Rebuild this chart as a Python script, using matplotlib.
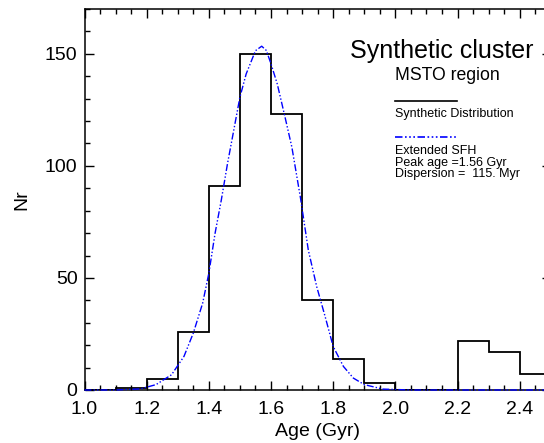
import matplotlib
matplotlib.use("Agg")
import matplotlib.pyplot as plt
from matplotlib.lines import Line2D
from matplotlib.ticker import MultipleLocator

plt.rcParams['font.family'] = ['Liberation Sans', 'DejaVu Sans']

# Histogram (synthetic distribution), bins of 0.1 Gyr
bin_edges = [1.0, 1.1, 1.2, 1.3, 1.4, 1.5, 1.6, 1.7, 1.8, 1.9, 2.0, 2.1, 2.2, 2.3, 2.4, 2.5]
counts = [0, 1, 5, 26, 91, 150, 123, 40, 14, 3, 0, 0, 22, 17, 7]

# Extended SFH curve
sfh_age = [1.00, 1.10, 1.18, 1.23, 1.28, 1.32, 1.35, 1.38, 1.40, 1.42, 1.44, 1.46,
           1.48, 1.50, 1.52, 1.55, 1.57, 1.585, 1.60, 1.62, 1.645, 1.667, 1.695,
           1.72, 1.747, 1.774, 1.80, 1.833, 1.865, 1.90, 1.96, 2.05, 2.50]
sfh_nr = [0, 0, 0.5, 2.4, 6.8, 15.0, 25.4, 38.7, 52.1, 69.9, 84.7, 101,
          115.8, 130.7, 141, 151.4, 153.4, 151.5, 145.5, 136.6, 121.8, 108.4, 85.5,
          62.4, 46.1, 32.8, 19.4, 10.5, 5.3, 2.4, 0.4, 0, 0]

xticks = [1.0, 1.2, 1.4, 1.6, 1.8, 2.0, 2.2, 2.4]
xtick_labels = ['1.0', '1.2', '1.4', '1.6', '1.8', '2.0', '2.2', '2.4']
yticks = [0, 50, 100, 150]

W, H = 544, 443
fig = plt.figure(figsize=(W / 100, H / 100), dpi=100)
L, R, T, B = 84.5, 550.8, 9, 390
ax = fig.add_axes([L / W, 1 - B / H, (R - L) / W, (B - T) / H])

ax.stairs(counts, bin_edges, color='black', linewidth=1.3, baseline=0, zorder=2)
dash = (0, (5, 1.5, 1, 1.5, 1, 1.5))
ax.plot(sfh_age, sfh_nr, color='#0000ff', linewidth=1.0, linestyle=dash,
        zorder=3, clip_on=False)

ax.set_xlim(1.0, 2.5)
ax.set_ylim(0, 170)
ax.set_xticks(xticks)
ax.set_xticklabels(xtick_labels)
ax.set_yticks(yticks)
ax.xaxis.set_minor_locator(MultipleLocator(0.05))
ax.yaxis.set_minor_locator(MultipleLocator(10))
ax.tick_params(which='both', direction='in', top=True, right=True,
               labelsize=14, width=1.0, color='black')
ax.tick_params(axis='x', which='major', pad=8)
ax.tick_params(axis='y', which='major', pad=5)
ax.tick_params(which='major', length=6.5)
ax.tick_params(which='minor', length=3.6)
for s in ax.spines.values():
    s.set_linewidth(1.1)

ax.set_xlabel('Age (Gyr)', fontsize=14, labelpad=3.5)
ax.set_ylabel('Nr', fontsize=14, labelpad=10.5)


def ftext(x, y, s, size):
    fig.text(x / W, 1 - y / H, s, fontsize=size, ha='left', va='baseline')


ftext(350.5, 58.3, 'Synthetic cluster', 18)
ftext(395, 80, 'MSTO region', 12.7)
fig.add_artist(Line2D([395 / W, 457 / W], [1 - 101 / H] * 2, color='black', linewidth=1.2))
ftext(395, 117.3, 'Synthetic Distribution', 9)
fig.add_artist(Line2D([395 / W, 457 / W], [1 - 136.7 / H] * 2, color='#0000ff',
                      linewidth=1.2, linestyle=(0, (4.5, 1.5, 1, 1.5, 1, 1.5, 1, 1.5))))
ftext(395, 153.5, 'Extended SFH', 9)
ftext(395, 165.7, 'Peak age =1.56 Gyr', 9)
ftext(395, 177.3, 'Dispersion =  115. Myr', 9)

fig.savefig('out.png', dpi=100)
